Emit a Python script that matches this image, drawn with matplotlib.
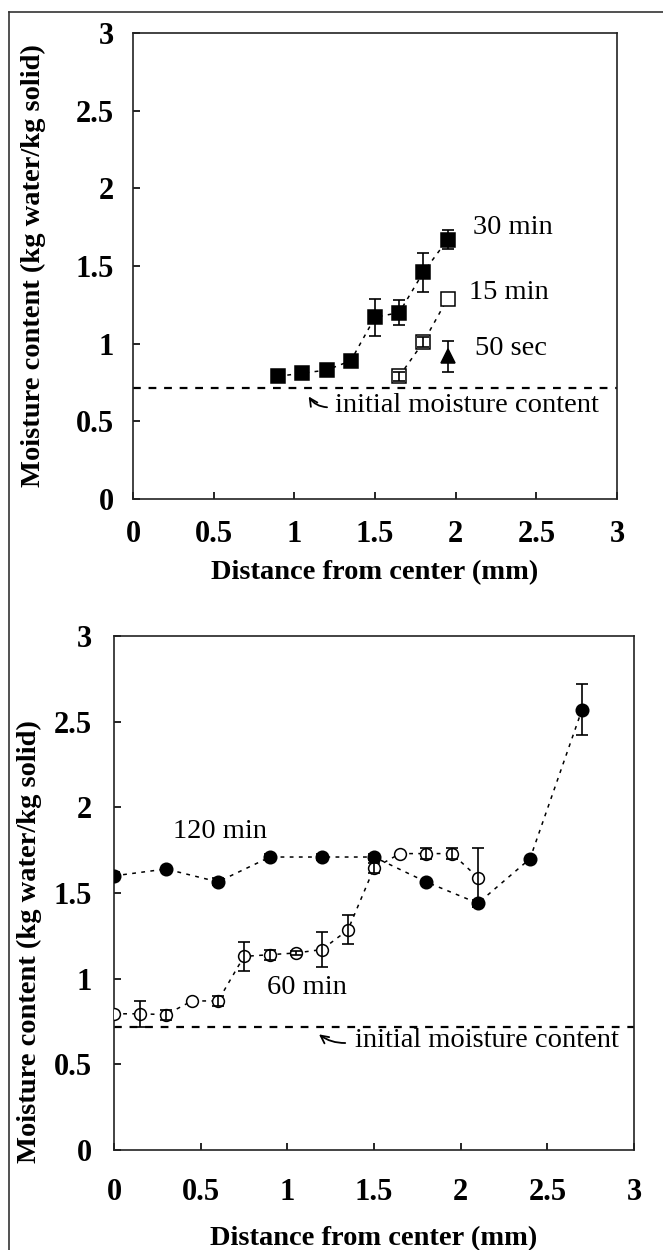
import matplotlib
matplotlib.use('Agg')
from matplotlib import pyplot as plt
from matplotlib.lines import Line2D

plt.rcParams['font.family'] = ['Liberation Serif', 'DejaVu Serif']

# upper panel: short exposure times
d30 = [0.9, 1.05, 1.2, 1.35, 1.5, 1.65, 1.8, 1.95]
m30 = [0.79, 0.81, 0.83, 0.89, 1.17, 1.20, 1.46, 1.67]
e30 = [0.02, 0.02, 0.02, 0.02, 0.12, 0.08, 0.125, 0.06]
d15 = [1.65, 1.8, 1.95]
m15 = [0.79, 1.01, 1.29]
e15 = [0.03, 0.03, 0.0]
d50s = [1.95]
m50s = [0.92]
e50s = [0.1]

# lower panel: long exposure times
d120 = [0.0, 0.3, 0.6, 0.9, 1.2, 1.5, 1.8, 2.1, 2.4, 2.7]
m120 = [1.60, 1.64, 1.565, 1.71, 1.71, 1.71, 1.565, 1.44, 1.70, 2.57]
e120 = [0.02, 0.0, 0.02, 0.02, 0.02, 0.02, 0.0, 0.02, 0.0, 0.15]
d60 = [0.0, 0.15, 0.3, 0.45, 0.6, 0.75, 0.9, 1.05, 1.2, 1.35, 1.5, 1.65, 1.8, 1.95, 2.1]
m60 = [0.795, 0.795, 0.79, 0.87, 0.87, 1.13, 1.14, 1.15, 1.17, 1.285, 1.645, 1.73, 1.73, 1.73, 1.59]
e60 = [0.0, 0.075, 0.03, 0.0, 0.03, 0.085, 0.03, 0.01, 0.1, 0.085, 0.03, 0.0, 0.03, 0.03, 0.17]

initial = 0.715
ticks = [0, 0.5, 1, 1.5, 2, 2.5, 3]
ticklabels = ['0', '0.5', '1', '1.5', '2', '2.5', '3']

fig = plt.figure(figsize=(6.63, 12.5), dpi=100)

# thin border on the left and top of the page
fig.add_artist(Line2D([9 / 663, 9 / 663], [0, 1 - 12 / 1250], transform=fig.transFigure, color='#333333', lw=1.2))
fig.add_artist(Line2D([9 / 663, 1], [1 - 12 / 1250, 1 - 12 / 1250], transform=fig.transFigure, color='#333333', lw=1.2))

ax1 = fig.add_axes([133 / 663, 1 - 499 / 1250, 484 / 663, 466 / 1250])
ax2 = fig.add_axes([114 / 663, 1 - 1150 / 1250, 520 / 663, 514 / 1250])

conn = dict(ls=(0, (2.5, 3.5)), lw=1.1, color='black')
eb = dict(fmt='none', ecolor='black', elinewidth=1.2, capsize=4.5, capthick=1.2, zorder=4)
arrow = dict(arrowstyle='->', lw=1.3, color='black', mutation_scale=14)


def series(ax, x, y, err, marker, ms, filled):
    # markers first, error bars drawn over them so they show through open symbols
    ax.plot(x, y, ls='none', marker=marker, ms=ms, mec='black', mew=1.1,
            mfc='black' if filled else 'white', zorder=3)
    keep = [i for i, e in enumerate(err) if e > 0]
    ax.errorbar([x[i] for i in keep], [y[i] for i in keep],
                yerr=[err[i] for i in keep], **eb)


def style(ax, xpad, ypad):
    ax.set_xlim(0, 3)
    ax.set_ylim(0, 3)
    ax.set_xticks(ticks)
    ax.set_xticklabels(ticklabels)
    ax.set_yticks(ticks)
    ax.set_yticklabels(ticklabels)
    ax.tick_params(direction='in', length=5, width=1.2, top=False, right=False,
                   labelsize=22)
    ax.tick_params(axis='x', pad=xpad)
    ax.tick_params(axis='y', pad=ypad)
    for lab in ax.get_xticklabels() + ax.get_yticklabels():
        lab.set_fontweight('bold')
    for sp in ax.spines.values():
        sp.set_linewidth(1.2)
        sp.set_color('#222222')
    ax.axhline(initial, color='black', lw=1.6, ls=(0, (3.5, 3.5)))


# upper panel
ax1.plot(d30, m30, **conn)
ax1.plot(d15, m15, **conn)
series(ax1, d30, m30, e30, 's', 10.5, True)
series(ax1, d15, m15, e15, 's', 9.5, False)
series(ax1, d50s, m50s, e50s, '^', 10, True)
style(ax1, 15, 14)
ax1.text(2.11, 1.745, '30 min', fontsize=20.5, va='center')
ax1.text(2.08, 1.33, '15 min', fontsize=20.5, va='center')
ax1.text(2.12, 0.97, '50 sec', fontsize=20.5, va='center')
ax1.text(1.25, 0.605, 'initial moisture content', fontsize=20.5, va='center')
ax1.annotate('', xy=(1.08, 0.675), xytext=(1.22, 0.59),
             arrowprops=dict(connectionstyle='arc3,rad=-0.3', **arrow))
ax1.set_xlabel('Distance from center (mm)', fontsize=20.5, fontweight='bold', labelpad=8)
ax1.set_ylabel('Moisture content (kg water/kg solid)', fontsize=20.5, fontweight='bold')
ax1.yaxis.set_label_coords(-0.18, 0.5)

# lower panel
ax2.plot(d120, m120, **conn)
ax2.plot(d60, m60, **conn)
series(ax2, d120, m120, e120, 'o', 9, True)
series(ax2, d60, m60, e60, 'o', 8.5, False)
style(ax2, 20, 16)
ax2.text(0.34, 1.86, '120 min', fontsize=20.5, va='center')
ax2.text(0.88, 0.95, '60 min', fontsize=20.5, va='center')
ax2.text(1.39, 0.64, 'initial moisture content', fontsize=20.5, va='center')
ax2.annotate('', xy=(1.17, 0.685), xytext=(1.35, 0.625),
             arrowprops=dict(connectionstyle='arc3,rad=-0.2', **arrow))
ax2.set_xlabel('Distance from center (mm)', fontsize=20.5, fontweight='bold', labelpad=14)
ax2.set_ylabel('Moisture content (kg water/kg solid)', fontsize=20.5, fontweight='bold')
ax2.yaxis.set_label_coords(-0.138, 0.405)

fig.savefig('out.png', dpi=100)
